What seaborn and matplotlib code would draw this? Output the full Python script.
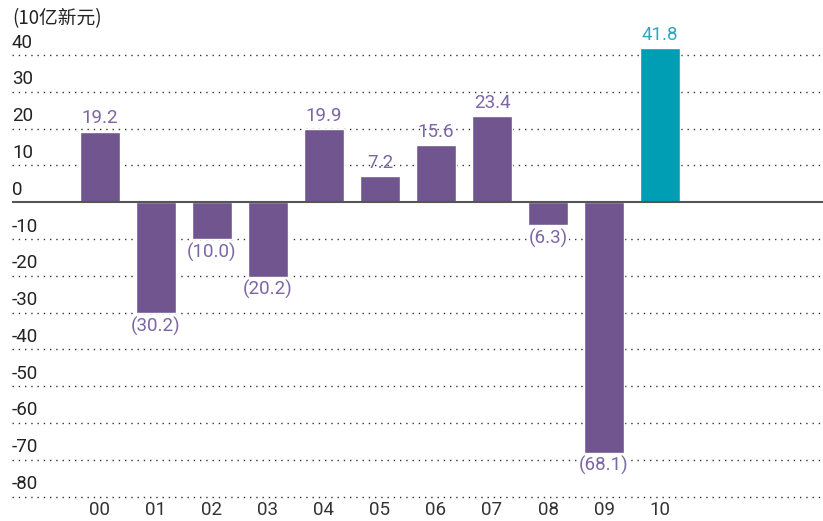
import matplotlib
matplotlib.use("Agg")
import matplotlib.pyplot as plt
import seaborn as sns
import pandas as pd

sns.set_theme(style="white")
plt.rcParams['font.family'] = ['Roboto', 'Noto Sans CJK SC', 'DejaVu Sans']

# data
years = ["00", "01", "02", "03", "04", "05", "06", "07", "08", "09", "10"]
values = [19.2, -30.2, -10.0, -20.2, 19.9, 7.2, 15.6, 23.4, -6.3, -68.1, 41.8]
highlight = [False] * 10 + [True]
y_ticks = [40, 30, 20, 10, 0, -10, -20, -30, -40, -50, -60, -70, -80]
unit_label = "(10亿新元)"

purple = "#70558f"
teal = "#009eb5"
purple_txt = "#7d66a5"
teal_txt = "#2aaac2"

df = pd.DataFrame({"year": years, "value": values, "hl": highlight})

fig = plt.figure(figsize=(8.23, 5.21), dpi=100)
ax = fig.add_axes([0.0146, 0.047, 0.9854, 0.8827])

sns.barplot(data=df, x="year", y="value", hue="hl", palette={False: purple, True: teal},
            dodge=False, legend=False, width=0.73, ax=ax, saturation=1, zorder=2)

ax.set_xlim(-1.57, 12.91)
ax.set_ylim(-80, 45)

for s in ax.spines.values():
    s.set_visible(False)

# dotted grid lines
for v in y_ticks:
    if v == 0:
        continue
    ax.axhline(v, color="#333333", linestyle=(0, (1, 3.5)), linewidth=1.0, zorder=0, clip_on=False)
ax.axhline(0, color="#555555", linewidth=1.5, zorder=3)

ax.set_yticks([])
for v in y_ticks:
    ax.annotate(f"{v}", xy=(0, v), xycoords=ax.get_yaxis_transform(),
                xytext=(0, 2.5), textcoords="offset points", ha="left", va="bottom",
                fontsize=13.5, color="#222222")

ax.set_xlabel("")
ax.set_ylabel("")
ax.tick_params(axis="x", length=0, pad=3, labelsize=13.5, labelcolor="#333333")

# value labels
box = dict(facecolor="white", edgecolor="none", pad=1)
for i, (v, h) in enumerate(zip(values, highlight)):
    col = teal_txt if h else purple_txt
    if v >= 0:
        ax.annotate(f"{v:.1f}", xy=(i, v), xytext=(0, 3), textcoords="offset points",
                    ha="center", va="bottom", fontsize=13.5, color=col,
                    annotation_clip=False, zorder=4)
    else:
        ax.annotate(f"({abs(v):.1f})", xy=(i, v), xytext=(0, -2.5), textcoords="offset points",
                    ha="center", va="top", fontsize=13.5, color=col, bbox=box,
                    annotation_clip=False, zorder=4)

fig.text(0.0146, 0.965, unit_label, ha="left", va="center", fontsize=13.5, color="#222222",
         family=["Noto Sans CJK SC", "DejaVu Sans"])

fig.savefig("out.png", dpi=100)
